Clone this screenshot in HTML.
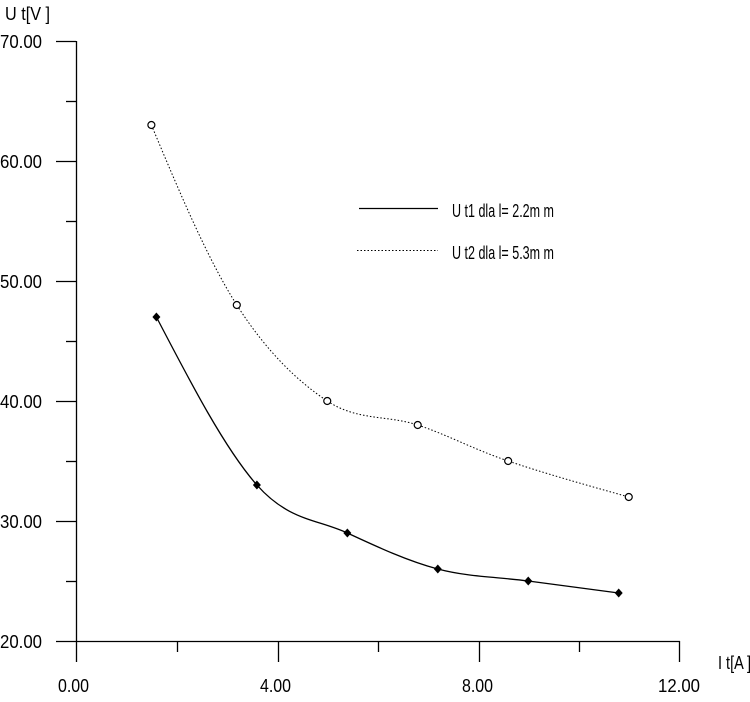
<!DOCTYPE html>
<html><head><meta charset="utf-8"><style>
body{margin:0;background:#fff}
svg text{font-family:"Liberation Sans Narrow","Liberation Sans",sans-serif;font-size:18px;fill:#000}
</style></head><body>
<svg id="s" width="750" height="697" viewBox="0 0 750 697" xmlns="http://www.w3.org/2000/svg">
<g stroke="#000" stroke-width="1.3" fill="none">
<line x1="76.5" y1="41" x2="76.5" y2="662"/>
<line x1="56" y1="641.5" x2="680" y2="641.5"/>
<line x1="56" y1="41.5" x2="76" y2="41.5"/>
<line x1="66" y1="101.5" x2="76" y2="101.5"/>
<line x1="56" y1="161.5" x2="76" y2="161.5"/>
<line x1="66" y1="221.5" x2="76" y2="221.5"/>
<line x1="56" y1="281.5" x2="76" y2="281.5"/>
<line x1="66" y1="341.5" x2="76" y2="341.5"/>
<line x1="56" y1="401.5" x2="76" y2="401.5"/>
<line x1="66" y1="461.5" x2="76" y2="461.5"/>
<line x1="56" y1="521.5" x2="76" y2="521.5"/>
<line x1="66" y1="581.5" x2="76" y2="581.5"/>
<line x1="177.5" y1="641" x2="177.5" y2="652"/>
<line x1="278.5" y1="641" x2="278.5" y2="662"/>
<line x1="378.5" y1="641" x2="378.5" y2="652"/>
<line x1="479.5" y1="641" x2="479.5" y2="662"/>
<line x1="579.5" y1="641" x2="579.5" y2="652"/>
<line x1="679.5" y1="641" x2="679.5" y2="662"/>
<line x1="359" y1="208.5" x2="438" y2="208.5"/>
<line x1="357" y1="250.5" x2="438" y2="250.5" stroke-dasharray="1.5,2" stroke-width="1"/>
</g>
<g>
<text x="5" y="20" textLength="45" lengthAdjust="spacingAndGlyphs">U t[V ]</text>
<text x="0" y="48" textLength="42" lengthAdjust="spacingAndGlyphs">70.00</text>
<text x="0" y="168" textLength="42" lengthAdjust="spacingAndGlyphs">60.00</text>
<text x="0" y="288" textLength="42" lengthAdjust="spacingAndGlyphs">50.00</text>
<text x="0" y="408" textLength="42" lengthAdjust="spacingAndGlyphs">40.00</text>
<text x="0" y="528" textLength="42" lengthAdjust="spacingAndGlyphs">30.00</text>
<text x="0" y="648" textLength="42" lengthAdjust="spacingAndGlyphs">20.00</text>
<text x="58" y="692" textLength="31" lengthAdjust="spacingAndGlyphs">0.00</text>
<text x="260" y="692" textLength="31" lengthAdjust="spacingAndGlyphs">4.00</text>
<text x="462" y="692" textLength="31" lengthAdjust="spacingAndGlyphs">8.00</text>
<text x="658" y="692" textLength="42" lengthAdjust="spacingAndGlyphs">12.00</text>
<text x="718" y="669" textLength="33" lengthAdjust="spacingAndGlyphs">I t[A ]</text>
<text x="452" y="217" font-size="14" textLength="102" lengthAdjust="spacingAndGlyphs">U t1  dla  l= 2.2m m</text>
<text x="452" y="259" font-size="14" textLength="102" lengthAdjust="spacingAndGlyphs">U t2  dla  l= 5.3m m</text>
</g>
<path id="p1" fill="none" stroke="#000" stroke-width="1.3"/>
<path id="p2" fill="none" stroke="#000" stroke-width="1" stroke-dasharray="1.5,2"/>
<g id="m"></g>
</svg>
<script>
function X(v){return 76+50.25*v}function Y(v){return 641-12*(v-20)}
var a=[[1.6,47],[3.6,33],[5.4,29],[7.2,26],[9,25],[10.8,24]].map(p=>[X(p[0]),Y(p[1])]);
var b=[[1.5,63],[3.2,48],[5,40],[6.8,38],[8.6,35],[11,32]].map(p=>[X(p[0]),Y(p[1])]);
function cr(P){var n=P.length,m=[];
for(var i=1;i<n-1;i++)m[i]=[(P[i+1][0]-P[i-1][0])/2,(P[i+1][1]-P[i-1][1])/2];
m[0]=[(3*(P[1][0]-P[0][0])-m[1][0])/2,(3*(P[1][1]-P[0][1])-m[1][1])/2];
m[n-1]=[(3*(P[n-1][0]-P[n-2][0])-m[n-2][0])/2,(3*(P[n-1][1]-P[n-2][1])-m[n-2][1])/2];
var d="M"+P[0][0]+","+P[0][1];
for(var i=0;i<n-1;i++){d+=" C"+(P[i][0]+m[i][0]/3)+","+(P[i][1]+m[i][1]/3)+" "+(P[i+1][0]-m[i+1][0]/3)+","+(P[i+1][1]-m[i+1][1]/3)+" "+P[i+1][0]+","+P[i+1][1];}
return d}
document.getElementById("p1").setAttribute("d",cr(a));
document.getElementById("p2").setAttribute("d",cr(b));
var g=document.getElementById("m"),h="";
a.forEach(p=>{h+='<polygon points="'+p[0]+','+(p[1]-4.5)+' '+(p[0]+4)+','+p[1]+' '+p[0]+','+(p[1]+4.5)+' '+(p[0]-4)+','+p[1]+'" fill="#000"/>'});
b.forEach(p=>{h+='<circle cx="'+p[0]+'" cy="'+p[1]+'" r="3.5" fill="#fff" stroke="#000" stroke-width="1.2"/>'});
g.innerHTML=h;
</script>
</body></html>
